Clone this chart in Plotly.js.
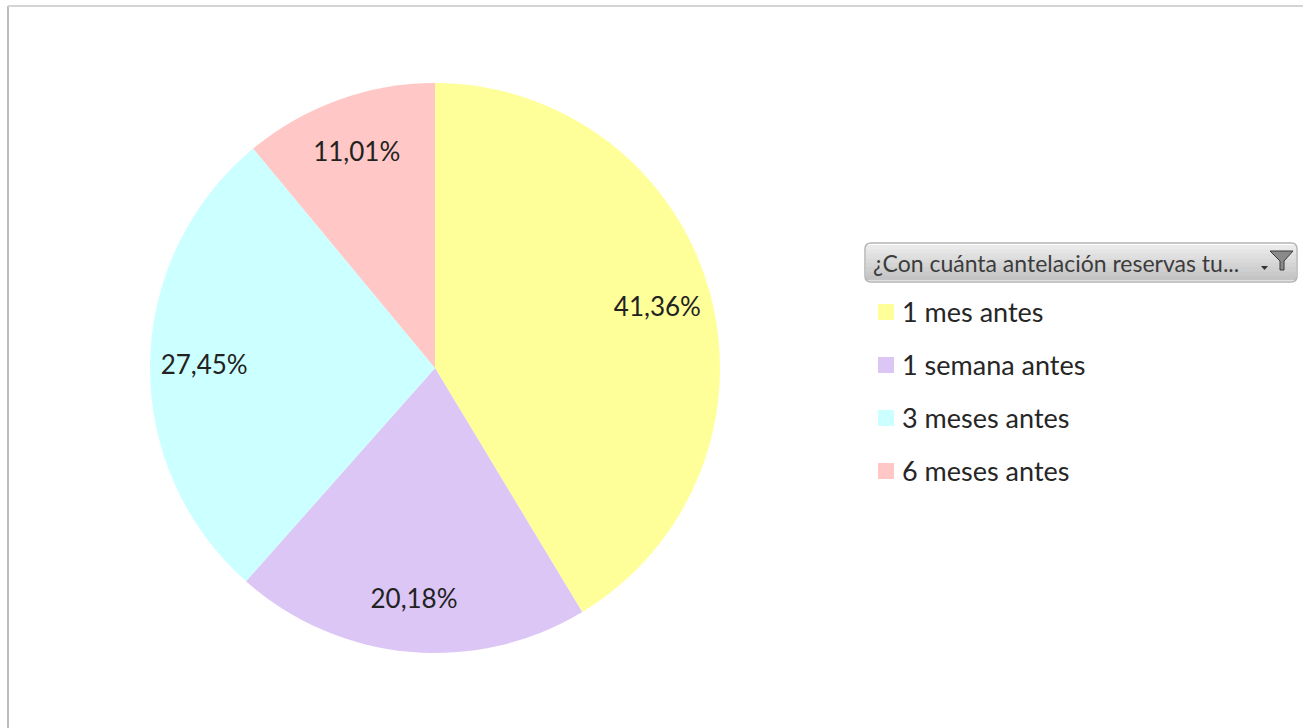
<!DOCTYPE html>
<html>
<head>
<meta charset="utf-8">
<script src="https://cdn.plot.ly/plotly-3.0.1.min.js"></script>
<style>html,body{margin:0;padding:0;background:#fff;}#chart{width:1303px;height:728px;}</style>
</head>
<body>
<div id="chart"></div>
<script>
var categories = ["1 mes antes", "1 semana antes", "3 meses antes", "6 meses antes"];
var percentages = [41.36, 20.18, 27.45, 11.01];
var sliceColors = ["#FFFF99", "#DCC6F6", "#CCFFFF", "#FFC8C6"];
var filterTitle = "¿Con cuánta antelación reservas tu...";

var W = 1303, H = 728;
function px(x){ return x / W; }
function py(y){ return 1 - y / H; }

var labelText = percentages.map(function(v){ return v.toFixed(2).replace('.', ',') + '%'; });
var pieDomain = {x: [px(150), px(720)], y: [py(653), py(83)]};
var FONT = 'Lato, "Open Sans", sans-serif';

// the filled pie
var pieTrace = {
  type: 'pie',
  labels: categories,
  values: percentages,
  textinfo: 'none',
  sort: false,
  direction: 'clockwise',
  rotation: 0,
  marker: {colors: sliceColors, line: {color: '#ffffff', width: 0}},
  domain: pieDomain,
  showlegend: false,
  hoverinfo: 'label+percent'
};

// transparent ring on top that carries the data labels at ~0.8 of the radius
var labelTrace = {
  type: 'pie',
  labels: categories,
  values: percentages,
  text: labelText,
  textinfo: 'text',
  textposition: 'inside',
  insidetextorientation: 'horizontal',
  hole: 0.62,
  sort: false,
  direction: 'clockwise',
  rotation: 0,
  marker: {colors: categories.map(function(){ return 'rgba(0,0,0,0)'; }), line: {width: 0}},
  textfont: {family: FONT, size: 26, color: '#222222'},
  domain: pieDomain,
  showlegend: false,
  hoverinfo: 'skip'
};

// filter header button with a faux vertical gradient
var hx0 = 865, hx1 = 1297, hy0 = 243, hy1 = 282, rr = 6;
var shapes = [
  {type: 'line', xref: 'paper', yref: 'paper', x0: px(8), x1: px(8), y0: py(6), y1: 0, line: {color: '#bdbdbd', width: 2}},
  {type: 'line', xref: 'paper', yref: 'paper', x0: px(8), x1: 1, y0: py(6), y1: py(6), line: {color: '#d4d4d4', width: 2}}
];
var bands = 8;
for (var b = 0; b < bands; b++) {
  var t = b / (bands - 1);
  var g = Math.round(234 - t * 38);
  var y0 = hy0 + 2 + b * (hy1 - hy0 - 4) / bands;
  var y1 = hy0 + 2 + (b + 1) * (hy1 - hy0 - 4) / bands;
  shapes.push({type: 'rect', xref: 'paper', yref: 'paper', x0: px(hx0 + 1), x1: px(hx1 - 1), y0: py(y1 + 0.5), y1: py(y0),
               fillcolor: 'rgb(' + g + ',' + g + ',' + g + ')', line: {width: 0}, layer: 'below'});
}
function rp(x, y){ return px(x) + ' ' + py(y); }
shapes.push({type: 'path', xref: 'paper', yref: 'paper',
  path: 'M ' + rp(hx0 + rr, hy0) + ' L ' + rp(hx1 - rr, hy0) + ' Q ' + rp(hx1, hy0) + ' ' + rp(hx1, hy0 + rr) +
        ' L ' + rp(hx1, hy1 - rr) + ' Q ' + rp(hx1, hy1) + ' ' + rp(hx1 - rr, hy1) +
        ' L ' + rp(hx0 + rr, hy1) + ' Q ' + rp(hx0, hy1) + ' ' + rp(hx0, hy1 - rr) +
        ' L ' + rp(hx0, hy0 + rr) + ' Q ' + rp(hx0, hy0) + ' ' + rp(hx0 + rr, hy0) + ' Z',
  fillcolor: 'rgba(0,0,0,0)', line: {color: '#b4b4b4', width: 1.5}});
// funnel icon
shapes.push({type: 'path', xref: 'paper', yref: 'paper',
  path: 'M ' + rp(1270, 251) + ' L ' + rp(1293, 251) + ' L ' + rp(1284, 261) + ' L ' + rp(1284, 270) +
        ' L ' + rp(1280, 270) + ' L ' + rp(1280, 261) + ' Z',
  fillcolor: '#8a8a8a', line: {color: '#3a3a3a', width: 1}});
// small dropdown arrow
shapes.push({type: 'path', xref: 'paper', yref: 'paper',
  path: 'M ' + rp(1261, 266) + ' L ' + rp(1268, 266) + ' L ' + rp(1264.5, 270) + ' Z',
  fillcolor: '#333333', line: {width: 0}});

var annotations = [
  {xref: 'paper', yref: 'paper', x: px(871), y: py(263), xanchor: 'left', yanchor: 'middle', showarrow: false,
   text: filterTitle, font: {family: FONT, size: 23, color: '#3c3c3c'}}
];

// legend entries built from the category and colour arrays
categories.forEach(function(cat, i){
  var cy = 312 + i * 53;
  shapes.push({type: 'rect', xref: 'paper', yref: 'paper', x0: px(878), x1: px(894), y0: py(cy + 8), y1: py(cy - 8),
               fillcolor: sliceColors[i], line: {width: 0}});
  annotations.push({xref: 'paper', yref: 'paper', x: px(900), y: py(cy - 1), xanchor: 'left', yanchor: 'middle', showarrow: false,
                    text: cat, font: {family: FONT, size: 27, color: '#262626'}});
});

var layout = {
  width: W, height: H,
  margin: {l: 0, r: 0, t: 0, b: 0},
  paper_bgcolor: '#ffffff',
  plot_bgcolor: '#ffffff',
  showlegend: false,
  shapes: shapes,
  annotations: annotations
};

Plotly.newPlot('chart', [pieTrace, labelTrace], layout, {displayModeBar: false, responsive: false});
</script>
</body>
</html>
